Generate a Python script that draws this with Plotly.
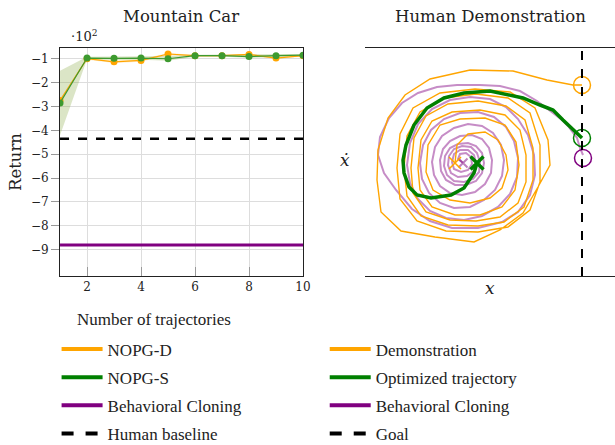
import plotly.graph_objects as go

# ---------------- Left panel data (Mountain Car returns) ----------------
n_traj = [1, 2, 3, 4, 5, 6, 7, 8, 9, 10]
nopg_d = [-275, -100, -113, -107, -80, -87, -87, -82, -97, -87]
nopg_d_hi = [-270, -96, -108, -102, -76, -84, -84, -79, -93, -84]
nopg_d_lo = [-282, -104, -118, -112, -85, -91, -91, -86, -101, -91]
nopg_s = [-285, -97, -98, -97, -100, -87, -87, -91, -87, -85]
nopg_s_hi = [-150, -92, -90, -90, -88, -83, -82, -84, -81, -80]
nopg_s_lo = [-420, -102, -105, -104, -108, -92, -92, -96, -93, -90]
bc_return = -880
human_return = -435
y_tick_vals = [-100, -200, -300, -400, -500, -600, -700, -800, -900]
y_tick_text = ["−1", "−2", "−3", "−4", "−5", "−6", "−7", "−8", "−9"]
x_tick_vals = [2, 4, 6, 8, 10]

# ---------------- Right panel data (phase-space trajectories) ----------------
demo_x = [-7, -5, 6, 23, 36, 44, 46, 40, 28, 8, -12, -29, -36,
          -34, -22, -2, 23, 43, 54, 57, 53, 40, 18, -7, -30, -42, -44,
          -41, -30, -10, 18, 43, 58, 64, 64, 56, 38, 14, -12, -36, -49, -51,
          -48, -36, -14, 16, 44, 63, 71, 71, 62, 42, 16, -14, -41, -55, -58,
          -55, -42, -18, 14, 46, 68, 78, 78, 68, 46, 16, -16, -45, -62, -65,
          -62, -49, -22, 13, 48, 73, 86, 88, 76, 61, 38, 12, -27, -61, -81,
          -85, -84, -74, -57, -32, 8, 51, 85, 111, 120]
demo_v = [2, 20, 31, 33, 25, 10, -5, -23, -33, -38, -35, -25, -7,
          20, 40, 46, 47, 40, 23, 0, -25, -42, -50, -50, -42, -25, -3,
          25, 44, 53, 55, 50, 35, 10, -17, -38, -52, -56, -55, -47, -28, -3,
          27, 49, 61, 64, 59, 45, 17, -15, -42, -57, -61, -60, -51, -31, -3,
          29, 53, 67, 71, 67, 52, 20, -17, -45, -62, -67, -66, -56, -34, -3,
          31, 57, 72, 76, 73, 57, 25, 0, -22, -48, -65, -77, -72, -66, -47,
          -15, 15, 47, 70, 86, 95, 94, 85, 80, 80]

opt_x = [15, 12, 2, -11, -31, -45, -53, -58, -59, -56, -48, -35, -18, 2,
         28, 38, 61, 78, 91, 101, 111, 118, 120]
opt_v = [2, -8, -23, -30, -33, -30, -22, -8, 5, 20, 40, 57, 67, 72,
         74, 72, 67, 60, 55, 45, 35, 29, 27]

bc_x = [1, -4, -2, 4, 9, 10, 6, -1, -8, -10, -8, -2, 6, 12, 14, 12, 5, -4,
        -11, -14, -13, -8, 0, 9, 15, 18, 17, 11, 2, -8, -15, -18, -17, -12,
        -4, 6, 14, 20, 22, 20, 14, 4, -7, -16, -21, -22,
        -19, -12, -2, 10, 20, 27, 30, 29, 23, 13, 0, -12, -22, -28, -30,
        -27, -20, -8, 6, 20, 31, 39, 42, 40, 33, 22, 8, -8, -22, -33, -40, -42,
        -39, -31, -18, -2, 16, 32, 44, 52, 56, 55, 48, 36, 20, 2, -16, -32,
        -44, -52, -55,
        -52, -44, -30, -12, 8, 28, 44, 56, 66, 72, 73, 68, 56, 40, 16, -10,
        -32, -50, -66,
        -78, -84, -82, -73, -60, -44, -25, -5, 18, 38, 58, 75, 91, 100, 106,
        115, 118, 121]
bc_v = [2, 6, 11, 12, 8, 1, -5, -7, -4, 3, 11, 15, 15, 10, 2, -6, -11, -12,
        -8, 0, 9, 16, 19, 18, 12, 3, -7, -14, -17, -16, -10, -1, 9, 17,
        21, 22, 19, 12, 2, -8, -16, -20, -20, -15, -6, 5,
        16, 24, 29, 30, 26, 17, 5, -8, -19, -27, -30, -28, -21, -10, 3,
        18, 29, 37, 41, 39, 32, 20, 5, -11, -25, -35, -42, -43, -38, -28, -14, 2,
        20, 35, 46, 52, 53, 48, 38, 24, 7, -12, -29, -42, -51, -55, -53, -46,
        -34, -18, 0,
        22, 41, 56, 65, 68, 66, 58, 46, 30, 10, -10, -30, -47, -57, -63, -63,
        -56, -44, -25,
        -8, 10, 28, 47, 62, 72, 78, 80, 80, 79, 74, 64, 52, 45, 39,
        27, 17, 10]
goal_x = 120

ORANGE = "#FFA500"
GREEN_L = "#3d9a2f"
GREEN = "#008000"
PURPLE = "#800080"
TFONT = "DejaVu Serif"
LFONT = "Liberation Serif"

fig = go.Figure()

# ---- left panel ----
fig.add_trace(go.Scatter(x=n_traj, y=nopg_d_hi, mode="lines", line=dict(width=0),
                         showlegend=False, hoverinfo="skip", xaxis="x", yaxis="y"))
fig.add_trace(go.Scatter(x=n_traj, y=nopg_d_lo, mode="lines", line=dict(width=0),
                         fill="tonexty", fillcolor="rgba(255,165,0,0.22)",
                         showlegend=False, hoverinfo="skip", xaxis="x", yaxis="y"))
fig.add_trace(go.Scatter(x=n_traj, y=nopg_s_hi, mode="lines", line=dict(width=0),
                         showlegend=False, hoverinfo="skip", xaxis="x", yaxis="y"))
fig.add_trace(go.Scatter(x=n_traj, y=nopg_s_lo, mode="lines", line=dict(width=0),
                         fill="tonexty", fillcolor="rgba(125,160,50,0.28)",
                         showlegend=False, hoverinfo="skip", xaxis="x", yaxis="y"))
fig.add_trace(go.Scatter(x=[1, 10], y=[human_return, human_return], mode="lines",
                         line=dict(color="black", width=2.5, dash="dash"),
                         showlegend=False, xaxis="x", yaxis="y"))
fig.add_trace(go.Scatter(x=[1, 10], y=[bc_return, bc_return], mode="lines",
                         line=dict(color=PURPLE, width=3),
                         showlegend=False, xaxis="x", yaxis="y"))
fig.add_trace(go.Scatter(x=n_traj, y=nopg_d, mode="lines+markers",
                         line=dict(color=ORANGE, width=1.2),
                         marker=dict(color=ORANGE, size=7),
                         showlegend=False, xaxis="x", yaxis="y"))
fig.add_trace(go.Scatter(x=n_traj, y=nopg_s, mode="lines+markers",
                         line=dict(color=GREEN_L, width=1.2),
                         marker=dict(color=GREEN_L, size=7),
                         showlegend=False, xaxis="x", yaxis="y"))

# ---- right panel ----
fig.add_trace(go.Scatter(x=bc_x, y=bc_v, mode="lines",
                         line=dict(color="rgba(128,0,128,0.45)", width=2),
                         showlegend=False, xaxis="x2", yaxis="y2"))
fig.add_trace(go.Scatter(x=demo_x, y=demo_v, mode="lines",
                         line=dict(color=ORANGE, width=1.4),
                         showlegend=False, xaxis="x2", yaxis="y2"))
fig.add_trace(go.Scatter(x=opt_x, y=opt_v, mode="lines",
                         line=dict(color=GREEN, width=3.5),
                         showlegend=False, xaxis="x2", yaxis="y2"))
# start markers (X) and end markers (circle)
fig.add_trace(go.Scatter(x=[bc_x[0]], y=[bc_v[0]], mode="markers",
                         marker=dict(symbol="x-thin", size=9,
                                     line=dict(color="rgba(128,0,128,0.5)", width=2)),
                         showlegend=False, xaxis="x2", yaxis="y2"))
fig.add_trace(go.Scatter(x=[demo_x[0]], y=[demo_v[0]], mode="markers",
                         marker=dict(symbol="x-thin", size=12,
                                     line=dict(color=ORANGE, width=1.5)),
                         showlegend=False, xaxis="x2", yaxis="y2"))
fig.add_trace(go.Scatter(x=[opt_x[0]], y=[opt_v[0]], mode="markers",
                         marker=dict(symbol="x-thin", size=13,
                                     line=dict(color=GREEN, width=3.5)),
                         showlegend=False, xaxis="x2", yaxis="y2"))
fig.add_trace(go.Scatter(x=[demo_x[-1], opt_x[-1], bc_x[-1]],
                         y=[demo_v[-1], opt_v[-1], bc_v[-1] - 3],
                         mode="markers",
                         marker=dict(symbol="circle-open", size=17,
                                     line=dict(color=[ORANGE, GREEN, PURPLE], width=1.5),
                                     color=[ORANGE, GREEN, PURPLE]),
                         showlegend=False, xaxis="x2", yaxis="y2"))
ydom = [0.3798, 0.8921]
fig.add_shape(type="line", xref="x2", yref="paper", x0=goal_x, x1=goal_x,
              y0=ydom[0], y1=ydom[1], line=dict(color="black", width=2, dash="dash"))

# ---- legends (legend-only traces) ----
left_items = [("NOPG-D", ORANGE, "solid"), ("NOPG-S", GREEN, "solid"),
              ("Behavioral Cloning", PURPLE, "solid"), ("Human baseline", "black", "dash")]
right_items = [("Demonstration", ORANGE, "solid"), ("Optimized trajectory", GREEN, "solid"),
               ("Behavioral Cloning", PURPLE, "solid"), ("Goal", "black", "dash")]
for i, (name, col, dash) in enumerate(left_items):
    fig.add_trace(go.Scatter(x=[None], y=[None], mode="lines", name=name,
                             line=dict(color=col, width=4, dash=dash),
                             legend="legend", legendgroup="L%d" % i,
                             xaxis="x", yaxis="y"))
for i, (name, col, dash) in enumerate(right_items):
    fig.add_trace(go.Scatter(x=[None], y=[None], mode="lines", name=name,
                             line=dict(color=col, width=4, dash=dash),
                             legend="legend2", legendgroup="R%d" % i,
                             xaxis="x2", yaxis="y2"))

LEG_FONT = dict(family=LFONT, size=17, color="#222")
fig.update_layout(
    width=615, height=445,
    margin=dict(l=0, r=0, t=0, b=0, autoexpand=False),
    paper_bgcolor="white", plot_bgcolor="white",
    font=dict(family=TFONT, size=16, color="#222"),
    xaxis=dict(domain=[0.0976, 0.4927], range=[1, 10], tickvals=x_tick_vals,
               showgrid=True, gridcolor="#dddddd", gridwidth=1,
               showline=True, linecolor="#222", linewidth=1, mirror=True,
               ticks="inside", ticklen=9, tickcolor="#999",
               tickfont=dict(family="DejaVu Serif", size=12), zeroline=False),
    yaxis=dict(domain=ydom, range=[-1010, -55], tickvals=y_tick_vals, ticktext=y_tick_text,
               showgrid=True, gridcolor="#dddddd", gridwidth=1,
               showline=True, linecolor="#222", linewidth=1, mirror=True,
               ticks="outside", ticklen=8, tickcolor="#999",
               tickfont=dict(family="DejaVu Serif", size=12), zeroline=False),
    xaxis2=dict(domain=[0.5935, 1.0], range=[-97, 153], showticklabels=False,
                showgrid=False, zeroline=False, showline=True, linecolor="#222",
                linewidth=1, mirror=True, ticks=""),
    yaxis2=dict(domain=ydom, range=[-111, 117], showticklabels=False,
                showgrid=False, zeroline=False, showline=True, linecolor="#222",
                linewidth=1, mirror=False, ticks=""),
    legend=dict(x=0.092, y=0.255, xanchor="left", yanchor="top",
                bgcolor="rgba(0,0,0,0)", font=LEG_FONT,
                itemwidth=41, tracegroupgap=3, traceorder="grouped"),
    legend2=dict(x=0.528, y=0.255, xanchor="left", yanchor="top",
                 bgcolor="rgba(0,0,0,0)", font=LEG_FONT,
                 itemwidth=41, tracegroupgap=3, traceorder="grouped"),
    annotations=[
        dict(text="Mountain Car", x=0.295, y=0.962, xref="paper", yref="paper",
             xanchor="center", yanchor="middle", showarrow=False,
             font=dict(family=TFONT, size=16.5)),
        dict(text="Human Demonstration", x=0.797, y=0.962, xref="paper", yref="paper",
             xanchor="center", yanchor="middle", showarrow=False,
             font=dict(family=TFONT, size=16.5)),
        dict(text="·10<sup>2</sup>", x=0.137, y=0.918, xref="paper", yref="paper",
             xanchor="center", yanchor="middle", showarrow=False,
             font=dict(family="DejaVu Serif", size=13)),
        dict(text="Return", x=0.026, y=0.636, xref="paper", yref="paper", textangle=-90,
             xanchor="center", yanchor="middle", showarrow=False,
             font=dict(family=TFONT, size=16.5)),
        dict(text="Number of trajectories", x=0.25, y=0.281, xref="paper", yref="paper",
             xanchor="center", yanchor="middle", showarrow=False,
             font=dict(family=LFONT, size=17)),
        dict(text="<i>x</i>", x=0.797, y=0.352, xref="paper", yref="paper",
             xanchor="center", yanchor="middle", showarrow=False,
             font=dict(family=TFONT, size=17)),
        dict(text="<i>ẋ</i>", x=0.561, y=0.64, xref="paper", yref="paper",
             xanchor="center", yanchor="middle", showarrow=False,
             font=dict(family=TFONT, size=17)),
    ],
)

fig.write_html("out.html", config={"displayModeBar": False},
               post_script="document.body.style.margin='0';")
